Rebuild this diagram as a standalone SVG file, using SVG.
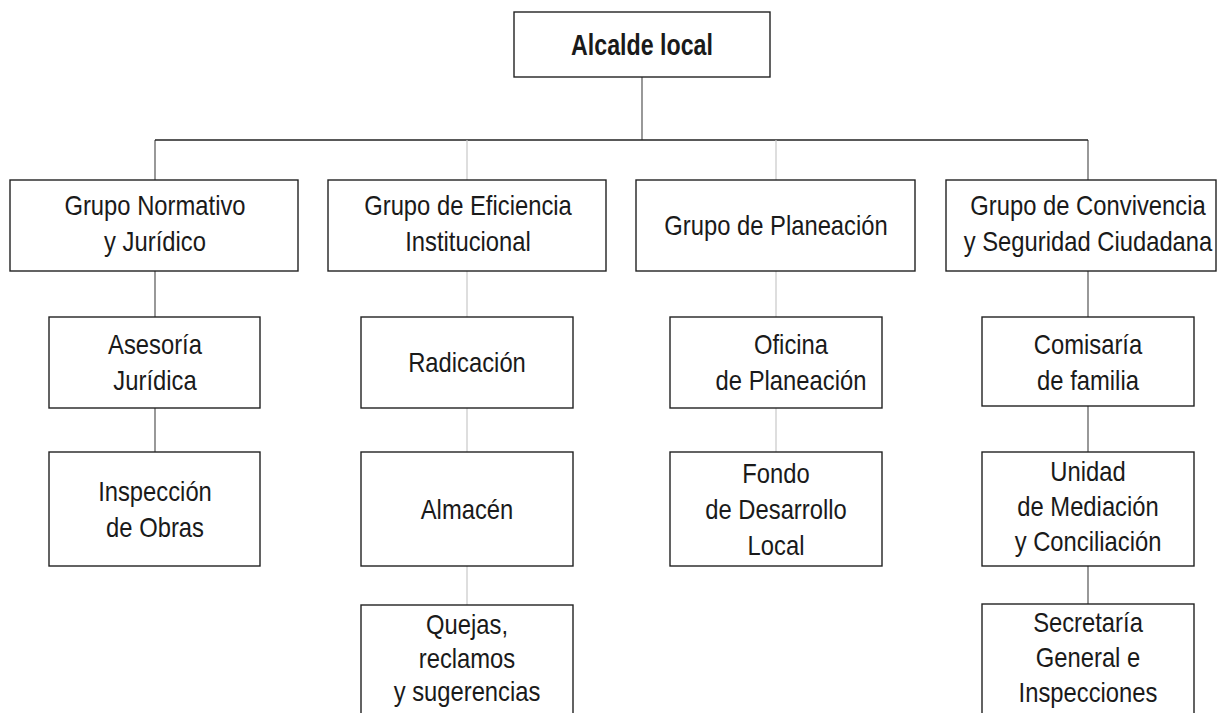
<svg xmlns="http://www.w3.org/2000/svg" width="1218" height="713" viewBox="0 0 1218 713">
<style>
.box{fill:#fff;stroke:#222;stroke-width:1.4}
.t{font-family:"Liberation Sans",Arial,Helvetica,sans-serif;font-size:28px;fill:#1a1a1a;text-anchor:middle}
.b{font-weight:bold;font-size:29px}
.dk{stroke:#555;stroke-width:1.2;fill:none}
.hz{stroke:#222;stroke-width:1.4;fill:none}
.lt{stroke:#c8c8c8;stroke-width:1.2;fill:none}
</style>
<rect width="1218" height="713" fill="#fff"/>
<g id="connectors">
<path class="dk" d="M642 77V140M155 140V180M1088 140V180M155 271V317M155 408V452M1088 271V317M1088 406V452M1088 566V604"/>
<path class="hz" d="M155 140H1088"/>
<path class="lt" d="M467 140V180M776 140V180M467 271V317M467 408V452M467 566V605M776 271V317M776 408V452"/>
</g>
<g id="alcalde">
<rect class="box" x="514" y="12" width="256" height="65"/>
<text class="t b" transform="translate(642 0) scale(0.8 1)"><tspan x="0" y="55">Alcalde local</tspan></text>
</g>
<g id="grupo-normativo">
<rect class="box" x="10" y="180" width="288" height="91"/>
<text class="t" transform="translate(155 0) scale(0.85 1)"><tspan x="0" y="215">Grupo Normativo</tspan><tspan x="0" y="251">y Jurídico</tspan></text>
</g>
<g id="grupo-eficiencia">
<rect class="box" x="328" y="180" width="278" height="91"/>
<text class="t" transform="translate(468 0) scale(0.85 1)"><tspan x="0" y="215">Grupo de Eficiencia</tspan><tspan x="0" y="251">Institucional</tspan></text>
</g>
<g id="grupo-planeacion">
<rect class="box" x="636" y="180" width="279" height="91"/>
<text class="t" transform="translate(776 0) scale(0.85 1)"><tspan x="0" y="235">Grupo de Planeación</tspan></text>
</g>
<g id="grupo-convivencia">
<rect class="box" x="946" y="180" width="270" height="91"/>
<text class="t" transform="translate(1088 0) scale(0.85 1)"><tspan x="0" y="215">Grupo de Convivencia</tspan><tspan x="0" y="251">y Seguridad Ciudadana</tspan></text>
</g>
<g id="asesoria">
<rect class="box" x="49" y="317" width="211" height="91"/>
<text class="t" transform="translate(155 0) scale(0.85 1)"><tspan x="0" y="354">Asesoría</tspan><tspan x="0" y="390">Jurídica</tspan></text>
</g>
<g id="inspeccion-obras">
<rect class="box" x="49" y="452" width="211" height="114"/>
<text class="t" transform="translate(155 0) scale(0.85 1)"><tspan x="0" y="501">Inspección</tspan><tspan x="0" y="537">de Obras</tspan></text>
</g>
<g id="radicacion">
<rect class="box" x="361" y="317" width="212" height="91"/>
<text class="t" transform="translate(467 0) scale(0.85 1)"><tspan x="0" y="372">Radicación</tspan></text>
</g>
<g id="almacen">
<rect class="box" x="361" y="452" width="212" height="114"/>
<text class="t" transform="translate(467 0) scale(0.85 1)"><tspan x="0" y="519">Almacén</tspan></text>
</g>
<g id="quejas">
<rect class="box" x="361" y="605" width="212" height="130"/>
<text class="t" transform="translate(467 0) scale(0.85 1)"><tspan x="0" y="634">Quejas,</tspan><tspan x="0" y="668">reclamos</tspan><tspan x="0" y="701">y sugerencias</tspan></text>
</g>
<g id="oficina-planeacion">
<rect class="box" x="670" y="317" width="212" height="91"/>
<text class="t" transform="translate(791 0) scale(0.85 1)"><tspan x="0" y="354">Oficina</tspan><tspan x="0" y="390">de Planeación</tspan></text>
</g>
<g id="fondo-desarrollo">
<rect class="box" x="670" y="452" width="212" height="114"/>
<text class="t" transform="translate(776 0) scale(0.85 1)"><tspan x="0" y="483">Fondo</tspan><tspan x="0" y="519">de Desarrollo</tspan><tspan x="0" y="555">Local</tspan></text>
</g>
<g id="comisaria">
<rect class="box" x="982" y="317" width="212" height="89"/>
<text class="t" transform="translate(1088 0) scale(0.85 1)"><tspan x="0" y="354">Comisaría</tspan><tspan x="0" y="390">de familia</tspan></text>
</g>
<g id="unidad-mediacion">
<rect class="box" x="982" y="452" width="212" height="114"/>
<text class="t" transform="translate(1088 0) scale(0.85 1)"><tspan x="0" y="481">Unidad</tspan><tspan x="0" y="516">de Mediación</tspan><tspan x="0" y="551">y Conciliación</tspan></text>
</g>
<g id="secretaria">
<rect class="box" x="982" y="604" width="212" height="130"/>
<text class="t" transform="translate(1088 0) scale(0.85 1)"><tspan x="0" y="632">Secretaría</tspan><tspan x="0" y="667">General e</tspan><tspan x="0" y="702">Inspecciones</tspan></text>
</g>
</svg>
